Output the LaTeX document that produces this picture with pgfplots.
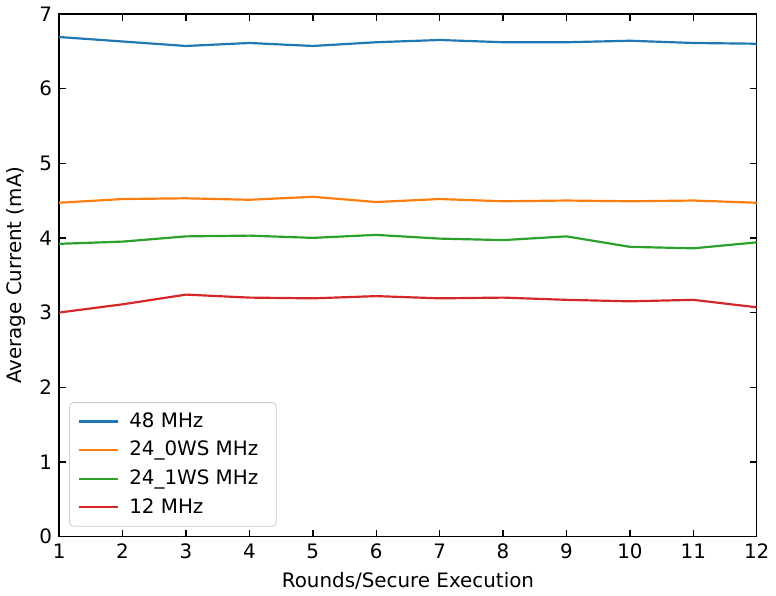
\documentclass[border=0pt]{standalone}
\usepackage{fontspec}
\setmainfont{DejaVu Sans}
\usepackage{pgfplots}
\pgfplotsset{compat=1.18}
\definecolor{c0}{HTML}{1F77B4}
\definecolor{c1}{HTML}{FF7F0E}
\definecolor{c2}{HTML}{2CA02C}
\definecolor{c3}{HTML}{D62728}
\begin{document}
\begin{tikzpicture}
\begin{axis}[
  scale only axis,
  width=351pt, height=263pt,
  xmin=1, xmax=12, ymin=0, ymax=7,
  xtick={1,...,12}, ytick={0,...,7},
  tick align=inside, tick pos=both,
  major tick length=3.5pt,
  every tick/.style={black, line width=0.7pt},
  axis line style={line width=0.7pt},
  /pgf/number format/assume math mode=true,
  tick label style={font=\fontsize{10}{12}\selectfont},
  label style={font=\fontsize{10}{12}\selectfont},
  xlabel={Rounds/Secure Execution},
  ylabel={Average Current (mA)},
  ylabel style={yshift=0pt},
  legend cell align=left,
  legend style={at={(0,0)}, xshift=5pt, yshift=5pt, anchor=south west,
    draw=black!20, rounded corners=2pt, fill=white, fill opacity=0.8, text opacity=1,
    font=\fontsize{10}{12}\selectfont, row sep=1.5pt, inner xsep=4pt, inner ysep=3pt,
    nodes={inner xsep=5pt}},
  legend image code/.code={\draw[#1, line width=1.1pt] (0cm,0cm) -- (20pt,0cm);},
  every axis plot/.append style={line width=1.1pt},
]
\addplot[c0] coordinates {(1,6.69)(2,6.63)(3,6.57)(4,6.61)(5,6.57)(6,6.62)(7,6.65)(8,6.62)(9,6.62)(10,6.64)(11,6.61)(12,6.60)};
\addlegendentry{48 MHz}
\addplot[c1] coordinates {(1,4.47)(2,4.52)(3,4.53)(4,4.51)(5,4.55)(6,4.48)(7,4.52)(8,4.49)(9,4.50)(10,4.49)(11,4.50)(12,4.47)};
\addlegendentry{24\_0WS MHz}
\addplot[c2] coordinates {(1,3.92)(2,3.95)(3,4.02)(4,4.03)(5,4.00)(6,4.04)(7,3.99)(8,3.97)(9,4.02)(10,3.88)(11,3.86)(12,3.94)};
\addlegendentry{24\_1WS MHz}
\addplot[c3] coordinates {(1,3.00)(2,3.11)(3,3.24)(4,3.20)(5,3.19)(6,3.22)(7,3.19)(8,3.20)(9,3.17)(10,3.15)(11,3.17)(12,3.07)};
\addlegendentry{12 MHz}
\end{axis}
\end{tikzpicture}
\end{document}
